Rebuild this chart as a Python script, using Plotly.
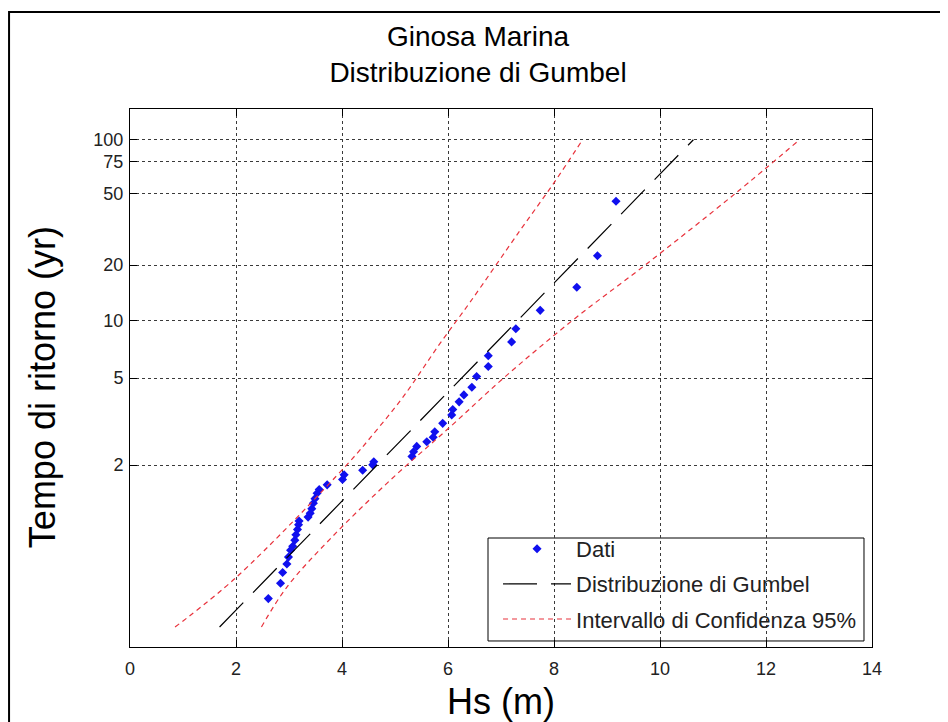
import numpy as np
import plotly.graph_objects as go

# Gumbel probability paper: y axis is the reduced variate -ln(-ln(1 - 1/T))

# observed maxima (Hs in m) and their plotting positions (reduced variate)
hs_data = [2.61, 2.84, 2.88, 2.96, 2.99, 3.03, 3.07, 3.11, 3.13, 3.16, 3.18, 3.19,
           3.36, 3.40, 3.43, 3.46, 3.49, 3.53, 3.57, 3.72, 4.01, 4.04, 4.39, 4.58,
           4.60, 5.32, 5.35, 5.41, 5.60, 5.72, 5.75, 5.90, 6.07, 6.09, 6.21, 6.30,
           6.45, 6.54, 6.76, 6.76, 7.20, 7.28, 7.74, 8.43, 8.82, 9.17]
rv_data = [-1.37, -1.17, -1.03, -0.92, -0.83, -0.74, -0.69, -0.61, -0.54, -0.47, -0.41, -0.36,
           -0.31, -0.26, -0.20, -0.13, -0.07, 0.00, 0.05, 0.11, 0.18, 0.24, 0.30, 0.37,
           0.41, 0.48, 0.54, 0.61, 0.67, 0.73, 0.80, 0.91, 1.02, 1.09, 1.19, 1.28,
           1.38, 1.52, 1.65, 1.79, 1.97, 2.14, 2.38, 2.68, 3.09, 3.80]

# fitted Gumbel line
fit_hs = [1.69, 10.63]
fit_rv = [-1.74, 4.60]

# 95% confidence band
ci_up_hs = [0.85, 2.01, 4.09, 4.65, 5.16, 5.85, 6.42, 7.36, 7.99, 8.52]
ci_up_rv = [-1.74, -1.09, 0.37, 0.82, 1.26, 1.95, 2.49, 3.42, 4.03, 4.58]
ci_lo_hs = [2.48, 2.96, 3.81, 4.91, 6.05, 7.05, 8.35, 9.72, 11.42, 12.60]
ci_lo_rv = [-1.74, -1.22, -0.57, 0.17, 0.87, 1.50, 2.25, 2.97, 3.90, 4.58]

# return period ticks (years)
t_ticks = [2, 5, 10, 20, 50, 75, 100]
x_ticks = [0, 2, 4, 6, 8, 10, 12, 14]

t_pos = [-np.log(-np.log(1 - 1 / t)) for t in t_ticks]

FONT = "Liberation Sans, Arial, sans-serif"
RED = "#e8323c"

fig = go.Figure()

fig.add_trace(go.Scatter(x=hs_data, y=rv_data, mode="markers", name="Dati",
                         legendgroup="a",
                         marker=dict(symbol="diamond", size=7, color="#1010ee")))
fig.add_trace(go.Scatter(x=fit_hs, y=fit_rv, mode="lines", name="Distribuzione di Gumbel",
                         legendgroup="b",
                         line=dict(color="black", width=1.2, dash="34px,14px")))
fig.add_trace(go.Scatter(x=ci_up_hs, y=ci_up_rv, mode="lines", name="Intervallo di Confidenza 95%",
                         legendgroup="c", line_shape="spline",
                         line=dict(color=RED, width=1.2, dash="5px,4px")))
fig.add_trace(go.Scatter(x=ci_lo_hs, y=ci_lo_rv, mode="lines", showlegend=False,
                         legendgroup="c", line_shape="spline",
                         line=dict(color=RED, width=1.2, dash="5px,4px")))

axis_style = dict(showline=True, linewidth=1, linecolor="black", mirror="ticks",
                  ticks="inside", ticklen=7, tickcolor="black", zeroline=False,
                  automargin=False,
                  showgrid=True, gridcolor="#3a3a3a", gridwidth=1, griddash="3px,3px",
                  tickfont=dict(family=FONT, size=18, color="#222"))

fig.update_xaxes(range=[0, 14], tickvals=x_ticks, ticklabelstandoff=5, **axis_style,
                 title=dict(text="Hs (m)", font=dict(family=FONT, size=36, color="black"),
                            standoff=12))
fig.update_yaxes(range=[-2, 5], tickvals=t_pos, ticktext=[str(t) for t in t_ticks],
                 ticklabelstandoff=2, **axis_style)

# page body has an 8px margin, so the figure is 8px smaller than the window
fig.update_layout(
    width=940, height=714,
    margin=dict(l=122, r=76, t=101, b=75),
    paper_bgcolor="white", plot_bgcolor="white",
    title=dict(text="Ginosa Marina<br>Distribuzione di Gumbel", x=0.5, xanchor="center",
               y=0.947, yanchor="middle",
               font=dict(family=FONT, size=28, color="black")),
    legend=dict(x=0.496, y=0.2212, xanchor="left", yanchor="top",
                bgcolor="rgba(0,0,0,0)", borderwidth=0,
                font=dict(family=FONT, size=22, color="#222"),
                itemwidth=68, traceorder="grouped", tracegroupgap=3.5),
    annotations=[dict(text="Tempo di ritorno (yr)", textangle=-90, showarrow=False,
                      xref="paper", yref="paper", x=-0.1186, y=0.483,
                      xanchor="center", yanchor="middle",
                      font=dict(family=FONT, size=36, color="black"))],
    shapes=[
        # legend box
        dict(type="rect", xref="paper", yref="paper", layer="between",
             x0=0.4825, x1=0.9892, y0=0.0112, y1=0.2026,
             line=dict(color="black", width=1), fillcolor="white"),
        # outer figure frame
        dict(type="rect", xref="paper", yref="paper",
             x0=-0.1630, x1=1.0997, y0=-0.20, y1=1.1803,
             line=dict(color="black", width=2), fillcolor="rgba(0,0,0,0)"),
    ],
)

fig.write_html("out.html")
